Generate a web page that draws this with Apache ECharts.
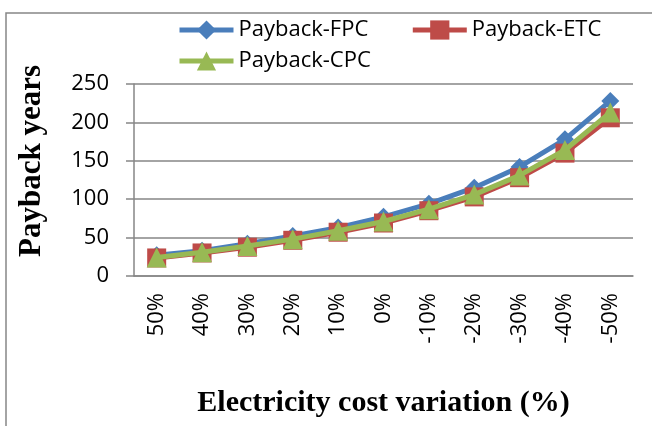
<!DOCTYPE html>
<html>
<head>
<meta charset="utf-8">
<script src="https://cdn.jsdelivr.net/npm/echarts@6/dist/echarts.min.js"></script>
<style>
  html, body { margin: 0; padding: 0; background: #fff; }
  #chart { width: 652px; height: 426px; }
</style>
</head>
<body>
<div id="chart"></div>
<script>
  // electricity cost variation
  let categories = ['50%', '40%', '30%', '20%', '10%', '0%', '-10%', '-20%', '-30%', '-40%', '-50%'];
  let fpcValues = [27, 33, 42, 52, 63, 77, 94, 115, 142, 178, 228];
  let etcValues = [23.5, 30, 37.5, 46.5, 57, 69, 85, 103, 128, 160, 206];
  let cpcValues = [24, 31, 39, 48, 59, 71, 87, 106, 131, 164, 213];
  let yTicks = [0, 50, 100, 150, 200, 250];

  let myChart = echarts.init(document.getElementById('chart'));
  let labelFont = "'Open Sans', sans-serif";
  let titleFont = "'Liberation Serif', 'Times New Roman', serif";

  let mkSeries = (name, data, color, symbol, size, z) => ({
    name: name,
    type: 'line',
    data: data,
    symbol: symbol,
    symbolSize: size,
    lineStyle: { color: color, width: 5 },
    itemStyle: { color: color },
    z: z
  });

  let legendBase = {
    left: 172,
    itemWidth: 54, itemHeight: 24, itemGap: 42,
    lineStyle: { width: 5 },
    textStyle: { fontFamily: labelFont, fontSize: 22, color: '#000' }
  };

  let option = {
    animation: false,
    graphic: [{
      type: 'rect',
      shape: { x: 6, y: 13, width: 700, height: 500 },
      style: { fill: 'none', stroke: '#868686', lineWidth: 1.5 }
    }],
    legend: [
      Object.assign({}, legendBase, { data: ['Payback-FPC', 'Payback-ETC'], top: 14 }),
      Object.assign({}, legendBase, { data: ['Payback-CPC'], top: 45 })
    ],
    grid: { left: 134, right: 19, top: 84, bottom: 150 },
    xAxis: {
      type: 'category',
      data: categories,
      boundaryGap: true,
      name: 'Electricity cost variation (%)',
      nameLocation: 'middle',
      nameGap: 112,
      nameTextStyle: { fontFamily: titleFont, fontWeight: 'bold', fontSize: 30, color: '#000' },
      axisLine: { lineStyle: { color: '#868686', width: 1.5 } },
      axisTick: { length: 6, lineStyle: { color: '#868686', width: 1.5 } },
      axisLabel: {
        rotate: 90, margin: 17, interval: 0,
        fontFamily: labelFont, fontSize: 22, color: '#000'
      }
    },
    yAxis: {
      type: 'value',
      min: yTicks[0], max: yTicks[yTicks.length - 1], interval: 50,
      name: 'Payback years',
      nameLocation: 'middle',
      nameGap: 87,
      nameTextStyle: { fontFamily: titleFont, fontWeight: 'bold', fontSize: 31, color: '#000', padding: [0, 0, 0, 38] },
      axisLine: { show: true, lineStyle: { color: '#868686', width: 1.5 } },
      axisTick: { show: true, length: 8, lineStyle: { color: '#868686', width: 1.5 } },
      axisLabel: { margin: 25, fontFamily: labelFont, fontSize: 22, color: '#000' },
      splitLine: { lineStyle: { color: '#868686', width: 1.5 } }
    },
    series: [
      mkSeries('Payback-FPC', fpcValues, '#4a7ebb', 'diamond', 18, 2),
      mkSeries('Payback-ETC', etcValues, '#be4b48', 'rect', 19, 3),
      mkSeries('Payback-CPC', cpcValues, '#98b954', 'triangle', 20, 4)
    ]
  };
  myChart.setOption(option);
</script>
</body>
</html>
